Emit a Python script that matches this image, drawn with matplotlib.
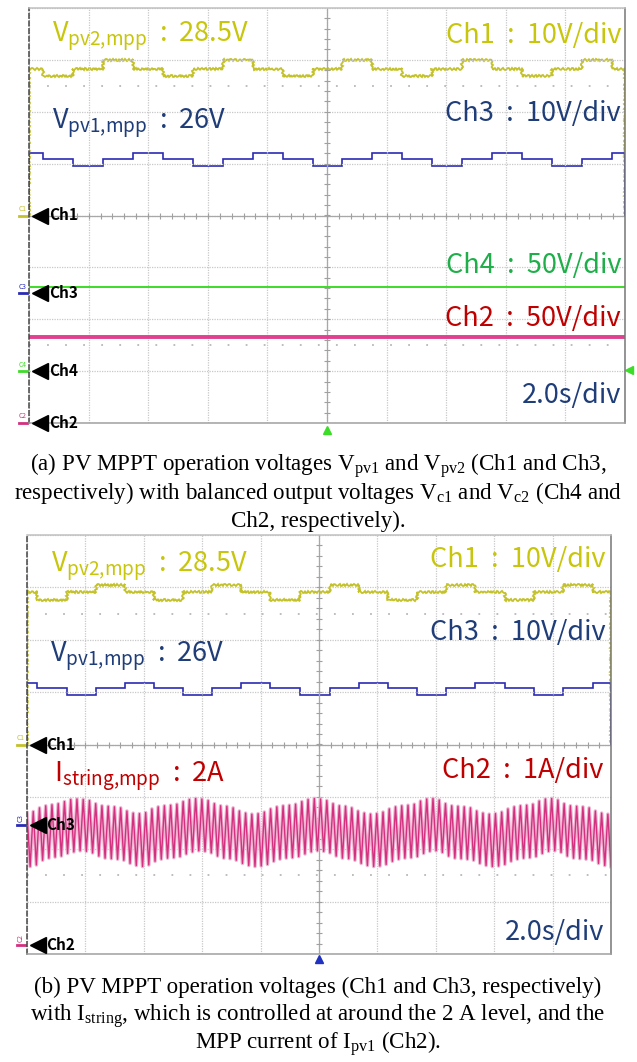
import numpy as np
import matplotlib
matplotlib.use("Agg")
from matplotlib import pyplot as plt

plt.rcParams["mathtext.fontset"] = "custom"
plt.rcParams["mathtext.rm"] = "Liberation Serif"
plt.rcParams["mathtext.sf"] = "Noto Sans CJK KR"

W, H = 637, 1062
SANS = ["Noto Sans CJK KR", "DejaVu Sans"]
SERIF = "Liberation Serif"

# ---- data (time in s, 2.0 s/div) ----
# panel (a): MPPT step edges and levels
edges_a = [0, 0.47, 1.48, 2.48, 3.49, 4.50, 5.50, 6.51, 7.52, 8.52, 9.53, 10.51,
           11.51, 12.52, 13.52, 14.53, 15.54, 16.54, 17.55, 18.56, 19.56, 20]
vpv2_a = [28.3, 26.8, 28.3, 30.0, 28.3, 26.8, 28.3, 30.0, 28.3, 26.8, 28.3,
          30.0, 28.3, 26.8, 28.3, 30.0, 28.3, 26.8, 28.3, 30.0, 28.3]
vpv1_a = [27.0, 25.8, 24.5, 25.8, 27.0, 25.8, 24.5, 25.8, 27.0, 25.8, 24.5,
          25.8, 27.0, 25.8, 24.5, 25.8, 27.0, 25.8, 24.5, 25.8, 27.0]
t_flat = [0, 20]
vc1_a = [81.0, 81.0]
vc2_a = [83.0, 83.0]

# panel (b)
edges_b = [0, 0.34, 1.37, 2.36, 3.36, 4.35, 5.34, 6.34, 7.33, 8.32, 9.35, 10.38,
           11.37, 12.36, 13.36, 14.35, 15.34, 16.37, 17.36, 18.36, 19.38, 20]
vpv2_b = [29.2, 27.5, 29.2, 30.5, 29.2, 27.5, 29.2, 30.5, 29.2, 27.5, 29.2,
          30.5, 29.2, 27.5, 29.2, 30.5, 29.2, 27.5, 29.2, 30.5, 29.2]
vpv1_b = [27.1, 26.0, 24.8, 26.0, 27.1, 26.0, 24.8, 26.0, 27.1, 26.0, 24.8,
          26.0, 27.1, 26.0, 24.8, 26.0, 27.1, 26.0, 24.8, 26.0, 27.1]
# string current: upper / lower peak of each oscillation cycle (A)
i_top = [2.52, 2.55, 2.62, 2.66, 2.68, 2.70, 2.74, 2.78, 2.79, 2.78, 2.76,
         2.70, 2.66, 2.65, 2.64, 2.62, 2.56, 2.52, 2.51, 2.53, 2.60, 2.64,
         2.66, 2.67, 2.69, 2.74, 2.78, 2.80, 2.79, 2.76, 2.70, 2.66, 2.65,
         2.62, 2.56, 2.52, 2.50, 2.51, 2.54, 2.60, 2.64, 2.66, 2.67, 2.69,
         2.74, 2.78, 2.80, 2.79, 2.76, 2.70, 2.66, 2.65, 2.62, 2.56, 2.52,
         2.50, 2.51, 2.54, 2.60, 2.64, 2.66, 2.67, 2.69, 2.75, 2.79, 2.80,
         2.77, 2.70, 2.66, 2.65, 2.64, 2.62, 2.56, 2.52, 2.50, 2.51, 2.54,
         2.60, 2.64, 2.66, 2.67, 2.69, 2.75, 2.79, 2.80, 2.77, 2.70, 2.66,
         2.65, 2.64, 2.62, 2.56, 2.52, 2.50]
i_bot = [1.50, 1.53, 1.62, 1.66, 1.68, 1.70, 1.75, 1.78, 1.80, 1.79, 1.76,
         1.70, 1.66, 1.65, 1.64, 1.62, 1.56, 1.52, 1.50, 1.53, 1.60, 1.64,
         1.66, 1.67, 1.69, 1.74, 1.78, 1.80, 1.79, 1.76, 1.70, 1.66, 1.65,
         1.62, 1.56, 1.52, 1.50, 1.51, 1.54, 1.60, 1.64, 1.66, 1.67, 1.69,
         1.74, 1.78, 1.80, 1.79, 1.76, 1.70, 1.66, 1.65, 1.62, 1.56, 1.52,
         1.50, 1.51, 1.54, 1.60, 1.64, 1.66, 1.67, 1.69, 1.75, 1.79, 1.80,
         1.77, 1.70, 1.66, 1.65, 1.64, 1.62, 1.56, 1.52, 1.50, 1.51, 1.54,
         1.60, 1.64, 1.66, 1.67, 1.69, 1.75, 1.79, 1.80, 1.77, 1.70, 1.66,
         1.65, 1.64, 1.62, 1.56, 1.52, 1.50]

YEL = "#c4c22a"
YEL_T = "#c8c60c"
BLU = "#2b2bb5"
BLU_T = "#1f3d78"
GRN = "#3ddc28"
GRN_T = "#1fae4a"
PNK = "#d3307f"
PNK_L = "#efb3d2"
RED_T = "#c00000"


def fpos(x, y):
    return x / W, 1 - y / H


def scope_axes(box):
    x0, y0, x1, y1 = box
    ax = plt.axes([x0 / W, 1 - y1 / H, (x1 - x0) / W, (y1 - y0) / H])
    ax.set_xlim(0, 20)
    ax.set_ylim(-4, 4)
    ax.set_xticks(np.arange(0, 21, 2))
    ax.set_yticks(np.arange(-4, 5, 1))
    ax.grid(True, color="#c8c8c8", lw=0.9, ls=(0, (1, 1)))
    ax.tick_params(length=0, labelbottom=False, labelleft=False)
    ax.spines["left"].set_linestyle((0, (3, 2)))
    ax.spines["left"].set_color("#444444")
    ax.spines["right"].set_color("#777777")
    ax.spines["top"].set_color("#c0c0c0")
    ax.spines["bottom"].set_color("#a0a0a0")
    for s in ax.spines.values():
        s.set_linewidth(1.1)
    # centre graticule with minor ticks
    ax.axhline(0, color="#a8a8a8", lw=0.9)
    ax.axvline(10, color="#a8a8a8", lw=0.9)
    ax.plot(np.arange(0.4, 20, 0.4), np.zeros(49), "|", color="#a0a0a0", ms=4, mew=0.8)
    ax.plot(np.full(39, 10.0), np.arange(-3.8, 4, 0.2), "_", color="#a0a0a0", ms=4, mew=0.8)
    for yy in (2.5, -2.5):
        ax.axhline(yy, color="#b8b8b8", lw=1.3, ls=(0, (1, 9)))
    return ax


def ch_marker(ax, name, tag, off, color, rotate=False):
    ax.plot([0.36], [off], marker="<", ms=11, color="black", clip_on=False, zorder=6)
    ax.text(0.66, off, name, va="center", ha="left", fontsize=11,
            fontweight="bold", family=SANS, color="black", zorder=6)
    ax.plot([-0.34, -0.08], [off, off], color=color, lw=2, clip_on=False)
    ax.text(-0.22, off + 0.05, tag, va="bottom", ha="center", fontsize=4.8,
            color=color, family=SANS, rotation=90 if rotate else 0)


def label(x, y, s, color, ha="left", size=19.5):
    plt.figtext(*fpos(x, y), s, color=color, ha=ha, va="baseline",
                fontsize=size, family=SANS)


fig = plt.figure(figsize=(W / 100, H / 100), dpi=100)

# ---- panel (a) ----
ax = scope_axes((29, 8, 625, 423))
ax.stairs(np.array(vpv2_a) / 10 + 0.0, edges_a, color=YEL, lw=1.3).set_sketch_params(1.1, 4, 2)
ax.stairs(np.array(vpv1_a) / 10 - 1.5, edges_a, color=BLU, lw=1.2)
ax.plot(t_flat, np.array(vc1_a) / 50 - 3.0, color=GRN, lw=1.4)
ax.plot(t_flat, np.array(vc2_a) / 50 - 4.0, color="#e0408f", lw=2.8)
ch_marker(ax, "Ch1", "C1", 0.0, YEL)
ch_marker(ax, "Ch3", "C3", -1.5, BLU)
ch_marker(ax, "Ch4", "C4", -3.0, GRN)
ch_marker(ax, "Ch2", "C2", -4.0, PNK)
ax.plot([10], [-4.13], marker="^", ms=6, color=GRN, clip_on=False)
ax.plot([20.12], [-2.97], marker="<", ms=6, color=GRN, clip_on=False)

SUB_V2 = r"$\mathsf{V}_{\mathsf{pv2{,}mpp}}$  :  28.5V"
SUB_V1 = r"$\mathsf{V}_{\mathsf{pv1{,}mpp}}$  :  26V"
label(52, 42, SUB_V2, YEL_T)
label(52, 130, SUB_V1, BLU_T)
label(621, 43, "Ch1  :  10V/div", YEL_T, ha="right")
label(621, 121, "Ch3  :  10V/div", BLU_T, ha="right")
label(621, 273, "Ch4  :  50V/div", GRN_T, ha="right")
label(621, 326, "Ch2  :  50V/div", RED_T, ha="right")
label(621, 403, "2.0s/div", BLU_T, ha="right")

# ---- panel (b) ----
ax = scope_axes((27, 535, 611, 954))
ax.stairs(np.array(vpv2_b) / 10 + 0.0, edges_b, color=YEL, lw=1.3).set_sketch_params(1.1, 4, 2)
ax.stairs(np.array(vpv1_b) / 10 - 1.53, edges_b, color=BLU, lw=1.2)
t_i = np.linspace(0, 20, 2 * len(i_top))
i_wave = np.column_stack([i_top, i_bot]).ravel()
ax.plot(t_i, i_wave - 3.83, color=PNK_L, lw=2.6)
ax.plot(t_i, i_wave - 3.83, color=PNK, lw=1.0)
ch_marker(ax, "Ch1", "C1", 0.0, YEL)
ch_marker(ax, "Ch3", "C3", -1.53, BLU, rotate=True)
ch_marker(ax, "Ch2", "C2", -3.83, PNK, rotate=True)
ax.plot([10], [-4.1], marker="^", ms=6, color="#2030c0", clip_on=False)

label(51, 573, SUB_V2, YEL_T)
label(50, 662, SUB_V1, BLU_T)
label(54, 783, r"$\mathsf{I}_{\mathsf{string{,}mpp}}$  :  2A", RED_T)
label(606, 567, "Ch1  :  10V/div", YEL_T, ha="right")
label(606, 640, "Ch3  :  10V/div", BLU_T, ha="right")
label(603, 778, "Ch2  :  1A/div", RED_T, ha="right")
label(604, 940, "2.0s/div", BLU_T, ha="right")

# ---- captions ----
cap_a = [r"(a) PV MPPT operation voltages V$_{\mathrm{pv1}}$ and V$_{\mathrm{pv2}}$ (Ch1 and Ch3,",
         r"respectively) with balanced output voltages V$_{\mathrm{c1}}$ and V$_{\mathrm{c2}}$ (Ch4 and",
         "Ch2, respectively)."]
cap_b = ["(b) PV MPPT operation voltages (Ch1 and Ch3, respectively)",
         r"with I$_{\mathrm{string}}$, which is controlled at around the 2 A level, and the",
         r"MPP current of I$_{\mathrm{pv1}}$ (Ch2)."]
for i, s in enumerate(cap_a):
    plt.figtext(*fpos(318, 471 + 28 * i), s, ha="center", va="baseline",
                fontsize=16.6, family=SERIF)
for i, s in enumerate(cap_b):
    plt.figtext(*fpos(318, 993 + 28 * i), s, ha="center", va="baseline",
                fontsize=16.6, family=SERIF)

plt.savefig("out.png", dpi=100)
